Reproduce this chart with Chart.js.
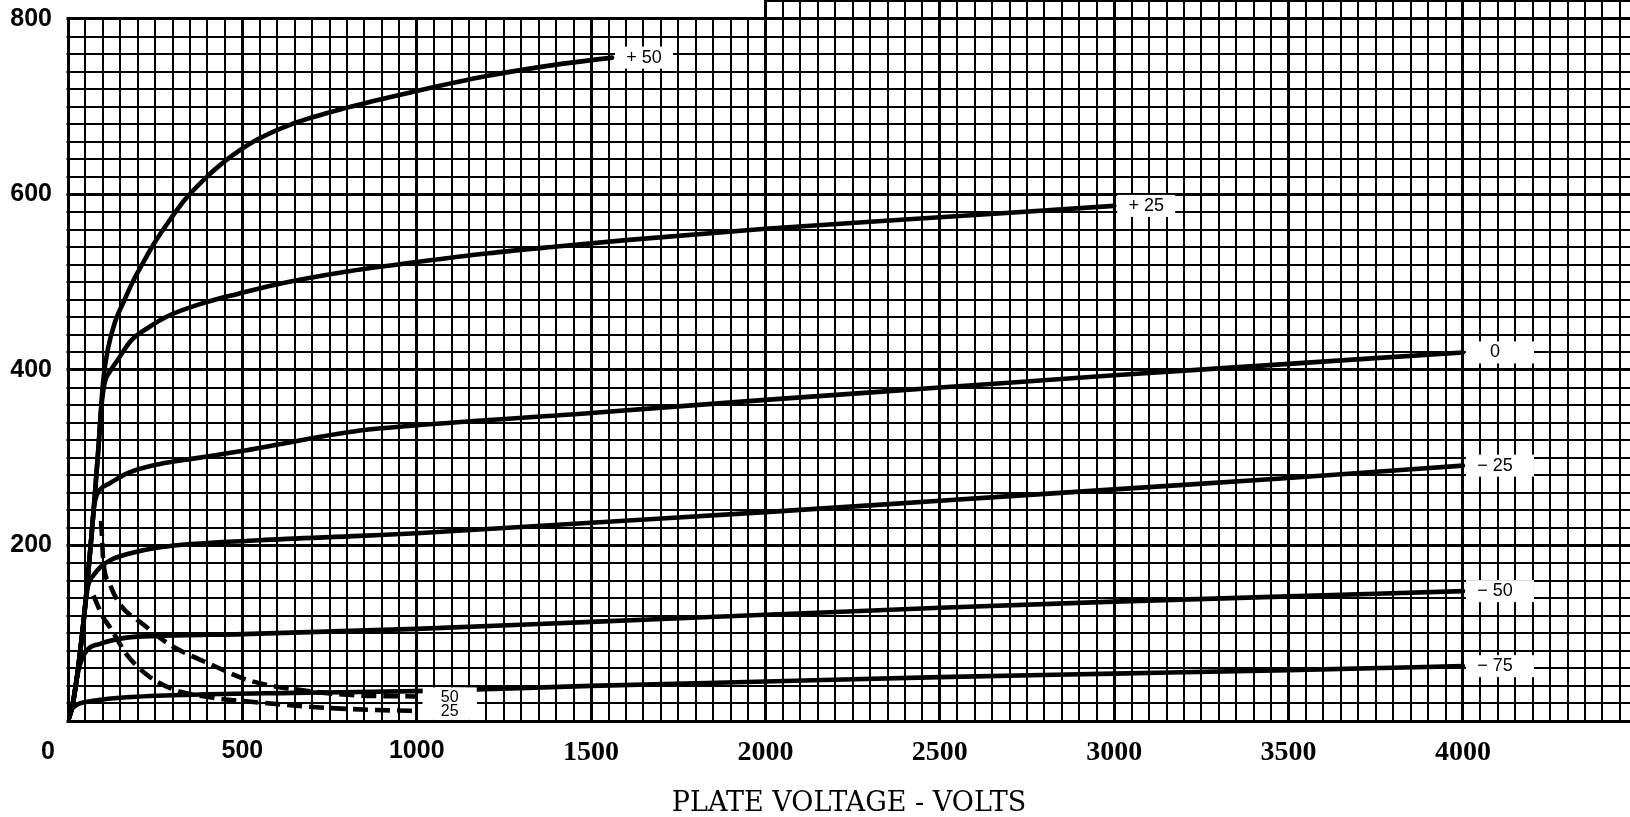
<!DOCTYPE html>
<html>
<head>
<meta charset="utf-8">
<title>Plate characteristics</title>
<script src="https://cdn.jsdelivr.net/npm/chart.js@4.4.0/dist/chart.umd.min.js"></script>
<style>
  html, body { margin: 0; padding: 0; background: #fff; }
  #wrap { width: 1630px; height: 817px; }
</style>
</head>
<body>
<div id="wrap"><canvas id="plate" width="1630" height="817"></canvas></div>
<script>
// Plate current (mA) against plate voltage (V), one solid curve per grid bias.
const gridBiasTags = ['+ 50', '+ 25', '0', '\u2212 25', '\u2212 50', '\u2212 75'];

const voltsGridPlus50 = [0, 12, 25, 44, 58, 68, 77, 87, 101, 115, 135, 160, 185, 215, 245, 285, 335, 390, 450, 540, 640, 800, 1000, 1200, 1400, 1560];
const maGridPlus50    = [0, 16, 48, 111, 169, 214, 258, 310, 388, 425, 455, 478, 500, 522, 543, 567, 594, 617, 638, 662, 680, 699, 718, 735, 748, 756];

const voltsGridPlus25 = [0, 12, 25, 44, 58, 68, 77, 87, 95, 105, 120, 140, 182, 233, 284, 386, 489, 591, 796, 1000, 1205, 1410, 1600, 2000, 2500, 3000];
const maGridPlus25    = [0, 16, 48, 111, 169, 214, 258, 310, 355, 385, 398, 410, 434, 449, 461, 476, 487, 497, 512, 523, 533, 541, 548, 561, 574, 587];

const voltsGridZero = [0, 12, 25, 44, 58, 68, 75, 82, 95, 120, 168, 264, 359, 502, 837, 1000, 1500, 2000, 2500, 3000, 3500, 4000];
const maGridZero    = [0, 16, 48, 111, 169, 214, 245, 257, 265, 271, 282, 293, 299, 308, 331, 337, 351, 366, 380, 394, 407, 420];

const voltsGridMinus25 = [0, 12, 25, 44, 52, 58, 73, 95, 120, 168, 264, 550, 837, 1000, 1500, 2000, 2500, 3000, 3500, 4000];
const maGridMinus25    = [0, 16, 48, 111, 140, 155, 166, 176, 183, 190, 198, 206, 211, 214, 226, 238, 251, 264, 277, 291];

const voltsGridMinus50 = [0, 12, 25, 35, 53, 92, 168, 264, 500, 1000, 1500, 2000, 2500, 3000, 3500, 4000];
const maGridMinus50    = [0, 16, 48, 65, 80, 88, 95, 97, 99, 105, 113, 121, 129, 136, 142, 148];

const voltsGridMinus75 = [0, 6, 12, 20, 34, 72, 168, 359, 645, 1000, 1500, 2000, 2500, 3000, 3500, 4000];
const maGridMinus75    = [0, 8, 14, 17, 20, 23, 27, 30, 32, 34, 40, 45, 50, 54, 58, 62.5];

// Dashed curves: grid current at +50 V and +25 V grid
const dashedTags = ['50', '25'];
const voltsDashed50 = [95, 98, 101, 120, 149, 216, 292, 407, 521, 693, 837, 1000];
const maDashed50    = [228, 205, 183, 156, 133, 110, 87, 65, 46, 34, 29, 28];
const voltsDashed25 = [73, 101, 120, 168, 225, 302, 407, 550, 741, 932, 1000];
const maDashed25    = [143, 118, 107, 76, 53, 36, 27, 21, 15, 12, 11.5];

// Axis ticks and graph-paper rulings
const xTickValues = [0, 500, 1000, 1500, 2000, 2500, 3000, 3500, 4000];
const yTickValues = [200, 400, 600, 800];
const axisTitle = 'PLATE VOLTAGE - VOLTS';

const paper = {
  minorVolts: 50, majorVolts: 500,
  minorMa: 20, majorMa: 200,
  topMaLeft: 800,      // paper edge over the left part of the sheet
  openFromVolts: 2000  // from here rightwards the ruling runs to the top
};

const pairs = (xs, ys) => xs.map((v, i) => ({ x: v, y: ys[i] }));

const solid = (tag, xs, ys, tagWidth) => ({
  data: pairs(xs, ys),
  tag, tagWidth,
  borderColor: '#000',
  borderWidth: 4.6,
  pointRadius: 0,
  borderCapStyle: 'round',
  cubicInterpolationMode: 'monotone',
  fill: false
});

const dashed = (tag, xs, ys) => ({
  data: pairs(xs, ys),
  dashTag: tag,
  borderColor: '#000',
  borderWidth: 4.6,
  borderDash: [15, 7],
  pointRadius: 0,
  cubicInterpolationMode: 'monotone',
  fill: false
});

const datasets = [
  solid(gridBiasTags[0], voltsGridPlus50, maGridPlus50, 58),
  solid(gridBiasTags[1], voltsGridPlus25, maGridPlus25, 58),
  solid(gridBiasTags[2], voltsGridZero, maGridZero, 68),
  solid(gridBiasTags[3], voltsGridMinus25, maGridMinus25, 68),
  solid(gridBiasTags[4], voltsGridMinus50, maGridMinus50, 68),
  solid(gridBiasTags[5], voltsGridMinus75, maGridMinus75, 68),
  dashed(dashedTags[0], voltsDashed50, maDashed50),
  dashed(dashedTags[1], voltsDashed25, maDashed25)
];

// Graph paper drawn from the scales
const graphPaper = {
  id: 'graphPaper',
  beforeDatasetsDraw(chart) {
    const { ctx, chartArea: a, scales: { x, y } } = chart;
    const crisp = (p, w) => (w % 2 ? Math.floor(p) + 0.5 : Math.round(p));
    const yEdge = y.getPixelForValue(paper.topMaLeft);
    const xOpen = x.getPixelForValue(paper.openFromVolts);
    ctx.save();
    ctx.strokeStyle = '#000';
    ctx.lineCap = 'butt';
    for (let v = 0; v <= x.max; v += paper.minorVolts) {
      const w = v % paper.majorVolts === 0 ? 3 : 2;
      const px = crisp(x.getPixelForValue(v), w);
      const top = v >= paper.openFromVolts ? a.top : yEdge - 1.5;
      ctx.lineWidth = w;
      ctx.beginPath();
      ctx.moveTo(px, top);
      ctx.lineTo(px, a.bottom + 1.5);
      ctx.stroke();
    }
    for (let i = 0; i <= y.max; i += paper.minorMa) {
      const w = i % paper.majorMa === 0 ? 3 : 2;
      const py = crisp(y.getPixelForValue(i), w);
      const left = i > paper.topMaLeft ? xOpen : a.left - 1.5;
      ctx.lineWidth = w;
      ctx.beginPath();
      ctx.moveTo(left, py);
      ctx.lineTo(a.right, py);
      ctx.stroke();
    }
    ctx.restore();
  }
};

// White-backed tags at the ends of the curves
const curveTags = {
  id: 'curveTags',
  afterDatasetsDraw(chart) {
    const { ctx, chartArea: a } = chart;
    const items = [];
    chart.data.datasets.forEach((ds, di) => {
      const pts = chart.getDatasetMeta(di).data;
      const end = pts[pts.length - 1];
      if (ds.tag) {
        items.push({ text: ds.tag, box: [end.x + 3, end.y - 11, ds.tagWidth, 22], tx: end.x + 32, ty: end.y, size: 18 });
      } else if (ds.dashTag) {
        const top = end.y - 9;
        const bottom = Math.min(end.y + 9, a.bottom - 1);
        items.push({ text: ds.dashTag, box: [end.x + 6, top, 54, bottom - top], tx: end.x + 33, ty: end.y + 1, size: 16 });
      }
    });
    ctx.save();
    ctx.fillStyle = '#fff';
    items.forEach(it => ctx.fillRect(...it.box));
    ctx.fillStyle = '#000';
    ctx.textAlign = 'center';
    ctx.textBaseline = 'middle';
    items.forEach(it => {
      ctx.font = `${it.size}px "Liberation Sans", "DejaVu Sans", sans-serif`;
      ctx.fillText(it.text, it.tx, it.ty);
    });
    ctx.restore();
  }
};

// Origin figure sits left of the corner, under the y labels
const originLabel = {
  id: 'originLabel',
  afterDraw(chart) {
    const { ctx, scales: { x } } = chart;
    ctx.save();
    ctx.font = 'bold 25px "Liberation Sans", sans-serif';
    ctx.fillStyle = '#000';
    ctx.textAlign = 'center';
    ctx.textBaseline = 'middle';
    ctx.fillText('0', x.getPixelForValue(0) - 20, x.top + 31);
    ctx.restore();
  }
};

new Chart(document.getElementById('plate'), {
  type: 'line',
  data: { datasets },
  options: {
    responsive: false,
    devicePixelRatio: 1,
    animation: false,
    layout: { padding: 0 },
    plugins: { legend: { display: false }, tooltip: { enabled: false } },
    scales: {
      x: {
        type: 'linear',
        min: 0,
        max: 4479,
        grid: { display: false },
        border: { display: false },
        afterBuildTicks: s => { s.ticks = xTickValues.map(v => ({ value: v })); },
        ticks: {
          maxRotation: 0,
          autoSkip: false,
          padding: 7,
          color: '#000',
          callback: v => (v === 0 ? '' : String(v)),
          font: c => ({
            family: c.tick && c.tick.value <= 1000 ? '"Liberation Sans", sans-serif' : '"Liberation Serif", serif',
            size: c.tick && c.tick.value <= 1000 ? 25 : 28,
            weight: 'bold'
          })
        },
        title: {
          display: true,
          text: axisTitle,
          color: '#000',
          font: { family: '"DejaVu Serif", serif', size: 27, lineHeight: 1 },
          padding: { top: 0, bottom: 0 }
        },
        afterFit: s => { s.height = 96; s.paddingLeft = 0; s.paddingRight = 0; }
      },
      y: {
        type: 'linear',
        min: 0,
        max: 821.65,
        grid: { display: false },
        border: { display: false },
        afterBuildTicks: s => { s.ticks = yTickValues.map(v => ({ value: v })); },
        ticks: {
          autoSkip: false,
          padding: 8,
          color: '#000',
          font: { family: '"Liberation Sans", sans-serif', size: 25, weight: 'bold' },
          callback: v => String(v)
        },
        afterFit: s => { s.width = 68; s.paddingTop = 0; s.paddingBottom = 0; }
      }
    }
  },
  plugins: [graphPaper, curveTags, originLabel]
});
</script>
</body>
</html>
